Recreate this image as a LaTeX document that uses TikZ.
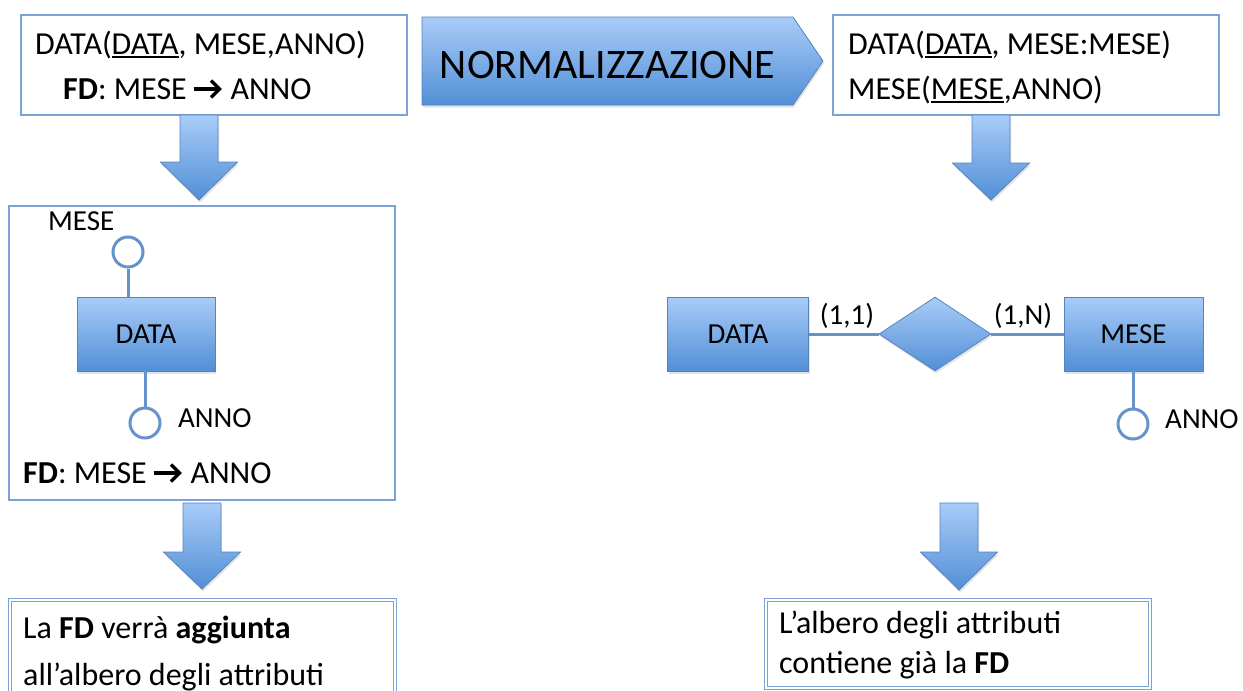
\documentclass[tikz,border=0pt]{standalone}
\usepackage{fontspec}
\setmainfont{Carlito}
\usetikzlibrary{shapes.geometric,shadows}

% underlined key attribute with a firm rule
\newsavebox\keybox
\newcommand\keyattr[1]{\sbox\keybox{#1}\rlap{\rule[-4pt]{\wd\keybox}{1.7pt}}\usebox\keybox}

\definecolor{framecol}{RGB}{122,162,212}
\definecolor{bluetop}{RGB}{168,204,248}
\definecolor{bluebot}{RGB}{82,143,214}
\definecolor{blueedge}{RGB}{86,130,192}
\definecolor{linkcol}{RGB}{102,148,202}

% thick chevron arrow used in the functional dependency lines
\newcommand\fdarrow{\hspace{5pt}\tikz[baseline=0pt]{%
  \path (0pt,0pt) rectangle (29pt,19pt);
  \draw[line width=3.3pt] (0pt,10pt) -- (25pt,10pt);
  \draw[line width=3.3pt,miter limit=10] (17.5pt,18.5pt) -- (26pt,10pt) -- (17.5pt,1.5pt);}\hspace{8pt}}

\tikzset{
  softshadow/.style={drop shadow={opacity=.22,shadow xshift=1pt,shadow yshift=-2.5pt}},
  bluefill/.style={top color=bluetop,bottom color=bluebot,draw=blueedge,line width=0.8pt,softshadow},
  textbox/.style={draw=framecol,line width=1.2pt,fill=white},
  dblbox/.style={draw=framecol,line width=1.1pt,double=white,double distance=2.4pt},
  entity/.style={rectangle,bluefill,minimum height=74pt,inner sep=0pt,font=\fontsize{29}{34}\selectfont},
  relation/.style={diamond,bluefill,minimum width=112pt,minimum height=74pt,inner sep=0pt},
  attrib/.style={circle,draw=linkcol,line width=3pt,fill=white,minimum size=30pt,inner sep=0pt},
  link/.style={draw=linkcol,line width=3pt},
  bigtxt/.style={anchor=base west,inner sep=0pt,font=\fontsize{32}{38}\selectfont},
  lbltxt/.style={inner sep=0pt,font=\fontsize{29}{34}\selectfont},
}

% block arrow pointing down: centre x, top, start of head, tip
\newcommand\blockdown[4]{%
  \shade[bluefill] (#1-19,-#2) -- (#1+19,-#2) -- (#1+19,-#3) -- (#1+38.5,-#3)
    -- (#1,-#4) -- (#1-38.5,-#3) -- (#1-19,-#3) -- cycle;}

\begin{document}
\begin{tikzpicture}[x=1pt,y=1pt]
\useasboundingbox (0,0) rectangle (1243,-691);
\clip (0,0) rectangle (1243,-691);

% ---- starting relation with its dependency
\node[textbox,minimum width=386pt,minimum height=100pt] (relbox) at (214,-65) {};
\node[bigtxt] (rel1) at (35,-54) {DATA(\keyattr{DATA}, MESE,ANNO)};
\node[bigtxt] (rel2) at (63,-99) {\textbf{FD}: MESE\fdarrow ANNO};

% ---- normalisation step
\shade[bluefill] (422,-17) -- (793,-17) -- (823,-61) -- (793,-105) -- (422,-105) -- cycle;
\node[anchor=base,inner sep=0pt,font=\fontsize{42}{50}\selectfont] (norm) at (607.5,-78) {NORMALIZZAZIONE};

% ---- normalised relations
\node[textbox,minimum width=386pt,minimum height=100pt] (normbox) at (1026,-65) {};
\node[bigtxt] (nrel1) at (848,-54) {DATA(\keyattr{DATA}, MESE:MESE)};
\node[bigtxt] (nrel2) at (848,-99) {MESE(\keyattr{MESE},ANNO)};

% ---- down arrows
\blockdown{199}{115}{162}{200}
\blockdown{991}{115}{163}{200}
\blockdown{202}{503}{552}{589}
\blockdown{959}{503}{552}{590}

% ---- left: single entity with attributes
\node[textbox,minimum width=386pt,minimum height=294pt] (leftbox) at (202,-353) {};
\node[lbltxt,anchor=base west] (lmese) at (48,-230) {MESE};
\node[attrib] (amese) at (128,-252) {};
\node[entity,minimum width=138pt] (edata) at (146,-334) {DATA};
\node[attrib] (aanno) at (145,-423) {};
\node[lbltxt,anchor=base west] (lanno) at (178,-427) {ANNO};
\node[bigtxt] (lfd) at (23,-483) {\textbf{FD}: MESE\fdarrow ANNO};
\draw[link] (amese.south) -- (amese.south |- edata.north);
\draw[link] (aanno.north |- edata.south) -- (aanno.north);

% ---- right: two entities and a relationship
\node[entity,minimum width=141pt] (rdata) at (738,-334) {DATA};
\node[relation] (rel) at (935,-334) {};
\node[entity,minimum width=139pt] (rmese) at (1133.5,-334) {MESE};
\node[attrib] (ranno) at (1133,-424) {};
\node[lbltxt,anchor=base west] (rlanno) at (1165,-428) {ANNO};
\node[lbltxt,anchor=base] (c11) at (847,-324) {(1,1)};
\node[lbltxt,anchor=base] (c1n) at (1023,-324) {(1,N)};
\draw[link] (rdata.east) -- (rel.west);
\draw[link] (rel.east) -- (rmese.west);
\draw[link] (ranno.north |- rmese.south) -- (ranno.north);

% ---- conclusions
\draw[dblbox] (10,-600) rectangle (395,-730);
\node[bigtxt] (conc1) at (23,-638) {La \textbf{FD} verrà \textbf{aggiunta}};
\node[bigtxt] (conc2) at (23,-685) {all’albero degli attributi};

\draw[dblbox] (766,-600) rectangle (1150,-688);
\node[bigtxt] (conc3) at (779,-633) {L’albero degli attributi};
\node[bigtxt] (conc4) at (779,-673) {contiene già la \textbf{FD}};
\end{tikzpicture}
\end{document}
